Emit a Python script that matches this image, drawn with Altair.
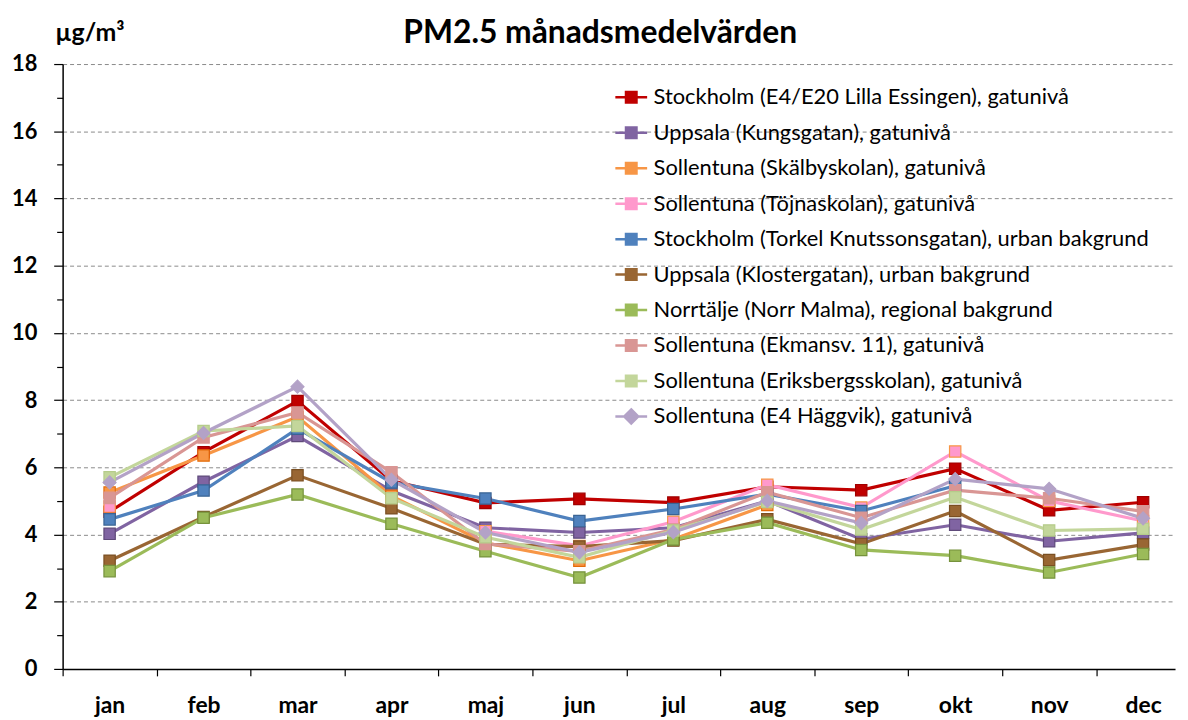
import altair as alt
import pandas as pd

months = ["jan", "feb", "mar", "apr", "maj", "jun", "jul", "aug", "sep", "okt", "nov", "dec"]

series_names = [
    "Stockholm (E4/E20 Lilla Essingen), gatunivå",
    "Uppsala (Kungsgatan), gatunivå",
    "\u00a0Sollentuna (Skälbyskolan), gatunivå",
    "Sollentuna (Töjnaskolan), gatunivå",
    "Stockholm (Torkel Knutssonsgatan), urban bakgrund",
    "Uppsala (Klostergatan), urban bakgrund",
    "Norrtälje (Norr Malma), regional bakgrund",
    "Sollentuna (Ekmansv. 11), gatunivå",
    "Sollentuna (Eriksbergsskolan), gatunivå",
    "Sollentuna (E4 Häggvik), gatunivå",
]

stockholm_e4 = [4.68, 6.45, 7.97, 5.60, 4.94, 5.06, 4.95, 5.42, 5.32, 5.96, 4.72, 4.96]
uppsala_kungsg = [4.02, 5.57, 6.93, 5.30, 4.20, 4.06, 4.20, 5.00, 3.86, 4.29, 3.80, 4.05]
skalbyskolan = [5.25, 6.35, 7.50, 5.15, 3.75, 3.22, 3.86, 4.88, None, None, None, None]
tojnaskolan = [4.83, None, None, None, 4.10, 3.66, 4.38, 5.48, 4.80, 6.47, 5.00, 4.40]
torkel = [4.45, 5.31, 7.15, 5.55, 5.07, 4.40, 4.76, 5.20, 4.70, 5.45, None, None]
klosterg = [3.22, 4.52, 5.76, 4.78, 3.71, 3.64, 3.82, 4.45, 3.72, 4.70, 3.24, 3.70]
norr_malma = [2.91, 4.50, 5.19, 4.32, 3.50, 2.72, 3.85, 4.35, 3.54, 3.37, 2.87, 3.42]
ekmansv = [5.09, 6.89, 7.63, 5.85, 3.72, 3.50, 4.15, 5.26, 4.50, 5.32, 5.08, 4.69]
eriksberg = [5.70, 7.08, 7.23, 5.08, 3.92, 3.32, 4.12, 4.97, 4.15, 5.11, 4.12, 4.17]
haggvik = [5.55, 7.02, 8.40, 5.63, 4.06, 3.47, 4.07, 5.00, 4.34, 5.65, 5.36, 4.48]

all_values = [stockholm_e4, uppsala_kungsg, skalbyskolan, tojnaskolan, torkel,
              klosterg, norr_malma, ekmansv, eriksberg, haggvik]

line_colors = ["#C00000", "#8064A2", "#F79646", "#FF99CC", "#4F81BD",
               "#996633", "#9BBB59", "#D99694", "#C3D69B", "#B3A2C7"]
marker_border = ["#A00000", "#5F4A7A", "#E46C0A", "#F79646", "#3A6494",
                 "#7A4F22", "#76923C", "#D99694", "#B5CC8A", "#B3A2C7"]
diamond_series = [series_names[-1]]

rows = []
for s, vals in zip(series_names, all_values):
    for i, v in enumerate(vals):
        rows.append({"series": s, "idx": i, "value": v,
                     "marker": "diamond" if s in diamond_series else "square"})
df = pd.DataFrame(rows)

FONT = "Lato"

x_values = [k - 0.5 for k in range(12)] + list(range(12))
month_array = "[" + ",".join("'" + m + "'" for m in months) + "]"

x_enc = alt.X(
    "idx:Q",
    scale=alt.Scale(domain=[-0.5, 11.34], nice=False, zero=False),
    axis=alt.Axis(
        values=x_values,
        labelExpr="datum.value % 1 === 0 ? " + month_array + "[datum.value] : ''",
        labelOverlap=False,
        labelFlush=False,
        grid=False,
        title=None,
        tickSize=7,
        tickColor="black",
        tickWidth=1.2,
        tickOpacity={"condition": {"test": "datum.value % 1 !== 0", "value": 1}, "value": 0},
        domainColor="black",
        domainWidth=1.5,
        labelFont=FONT,
        labelFontSize=23,
        labelFontWeight="bold",
        labelColor="black",
        labelPadding=19,
    ),
)

y_enc = alt.Y(
    "value:Q",
    scale=alt.Scale(domain=[0, 18], nice=False, zero=True),
    axis=alt.Axis(
        values=list(range(0, 19)),
        labelExpr="datum.value % 2 === 0 ? datum.label : ''",
        grid=True,
        gridDash=[4, 3],
        gridColor="#8A8A8A",
        gridWidth=1,
        gridOpacity={"condition": {"test": "datum.value % 2 === 0 && datum.value > 0", "value": 1}, "value": 0},
        tickSize={"condition": {"test": "datum.value % 2 === 0", "value": 9}, "value": 6},
        tickColor="black",
        tickWidth=1.2,
        domainColor="black",
        domainWidth=1.5,
        labelFont=FONT,
        labelFontSize=22,
        labelFontWeight="bold",
        labelColor="black",
        labelPadding=17,
        title="µg/m³",
        titleAngle=0,
        titleX=-8,
        titleY=-24,
        titleAlign="left",
        titleBaseline="alphabetic",
        titleFont=FONT,
        titleFontSize=25,
        titleFontWeight="bold",
        titleColor="black",
    ),
)

sq_path = "M-1,0L1,0M-0.33,-0.33L0.33,-0.33L0.33,0.33L-0.33,0.33Z"
dia_path = "M-1,0L1,0M0,-0.44L0.44,0L0,0.44L-0.44,0Z"
shape_expr = "indexof(" + "[" + ",".join("'" + s + "'" for s in diamond_series) + "], datum.value) >= 0 ? '" + dia_path + "' : '" + sq_path + "'"

legend = alt.Legend(
    title=None,
    orient="none",
    legendX=555,
    legendY=16,
    padding=0,
    labelFont=FONT,
    labelFontSize=22,
    labelColor="black",
    labelLimit=0,
    labelOffset=5,
    symbolSize=1024,
    rowPadding=6.7,
    symbolType=alt.ExprRef(expr=shape_expr),
    symbolStrokeWidth=2.5,
    symbolOpacity=1,
)

color_scale = alt.Scale(domain=series_names, range=line_colors)
stroke_scale = alt.Scale(domain=series_names, range=marker_border)

lines = alt.Chart(df).mark_line(strokeWidth=3.2, invalid="break-paths-filter-domains").encode(
    x=x_enc,
    y=y_enc,
    color=alt.Color("series:N", scale=color_scale, legend=legend, sort=series_names),
    order=alt.Order("idx:Q"),
)

squares = alt.Chart(df).transform_filter(alt.datum.marker == "square").mark_point(
    filled=True, shape="square", size=130, strokeWidth=1.2, opacity=1
).encode(
    x=x_enc,
    y=y_enc,
    color=alt.Color("series:N", scale=color_scale, legend=legend, sort=series_names),
    stroke=alt.Stroke("series:N", scale=stroke_scale, legend=None),
)

diamonds = alt.Chart(df).transform_filter(alt.datum.marker == "diamond").mark_point(
    filled=True, shape="diamond", size=170, strokeWidth=1.2, opacity=1
).encode(
    x=x_enc,
    y=y_enc,
    color=alt.Color("series:N", scale=color_scale, legend=legend, sort=series_names),
    stroke=alt.Stroke("series:N", scale=stroke_scale, legend=None),
)

chart = alt.layer(lines, squares, diamonds).properties(
    width=1120,
    height=609,
    autosize=alt.AutoSizeParams(type="none"),
    padding={"left": 55, "top": 54, "right": 5, "bottom": 49},
    title=alt.TitleParams(
        "PM2.5 månadsmedelvärden",
        font=FONT,
        fontSize=32,
        fontWeight="bold",
        color="black",
        anchor="middle",
        frame="bounds",
        offset=0,
        dy=30,
        dx=7,
    ),
    background="white",
).configure_view(stroke="transparent")

chart.save("out.html", embed_options={"renderer": "svg", "actions": False})
